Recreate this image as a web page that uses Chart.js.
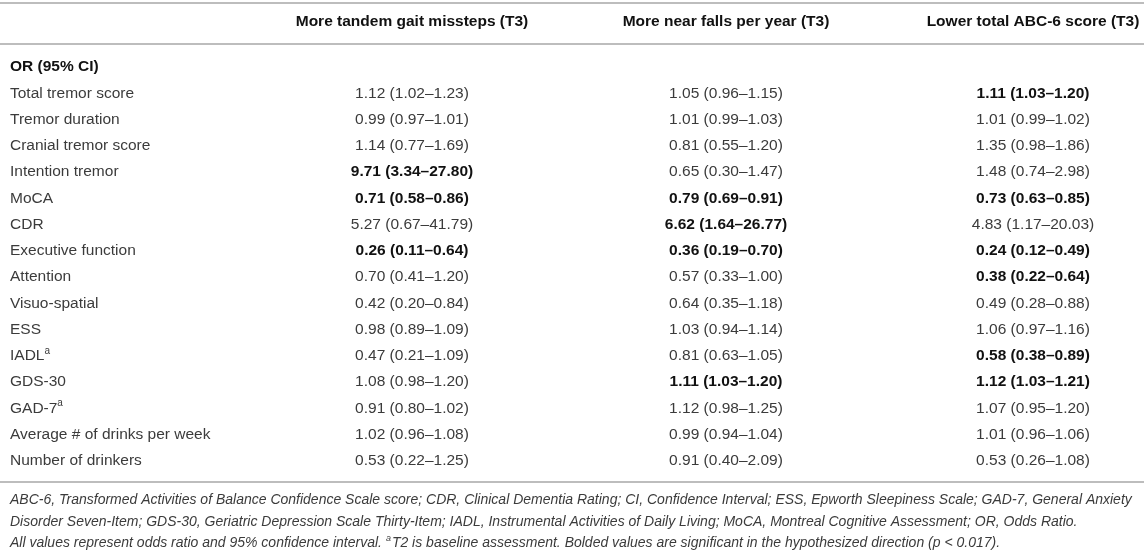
<!DOCTYPE html>
<html>
<head>
<meta charset="utf-8">
<title>Odds ratios table</title>
<script src="https://cdn.jsdelivr.net/npm/chart.js@4.4.1/dist/chart.umd.min.js"></script>
<style>
    html, body { margin: 0; padding: 0; background: #fff; }
    #tableChart { display: block; }
</style>
</head>
<body>
<canvas id="tableChart" width="1144" height="551"></canvas>
<script>
// Row and column labels
const sectionLabel = 'OR (95% CI)';
const variables = [
    'Total tremor score', 'Tremor duration', 'Cranial tremor score', 'Intention tremor',
    'MoCA', 'CDR', 'Executive function', 'Attention', 'Visuo-spatial', 'ESS',
    'IADL^a', 'GDS-30', 'GAD-7^a', 'Average # of drinks per week', 'Number of drinkers'
];
const columns = ['More tandem gait missteps (T3)', 'More near falls per year (T3)', 'Lower total ABC-6 score (T3)'];

// More tandem gait missteps (T3)
const tandemOR   = [1.12, 0.99, 1.14, 9.71, 0.71, 5.27, 0.26, 0.70, 0.42, 0.98, 0.47, 1.08, 0.91, 1.02, 0.53];
const tandemLow  = [1.02, 0.97, 0.77, 3.34, 0.58, 0.67, 0.11, 0.41, 0.20, 0.89, 0.21, 0.98, 0.80, 0.96, 0.22];
const tandemHigh = [1.23, 1.01, 1.69, 27.80, 0.86, 41.79, 0.64, 1.20, 0.84, 1.09, 1.09, 1.20, 1.02, 1.08, 1.25];
const tandemSig  = [3, 4, 6];

// More near falls per year (T3)
const fallsOR   = [1.05, 1.01, 0.81, 0.65, 0.79, 6.62, 0.36, 0.57, 0.64, 1.03, 0.81, 1.11, 1.12, 0.99, 0.91];
const fallsLow  = [0.96, 0.99, 0.55, 0.30, 0.69, 1.64, 0.19, 0.33, 0.35, 0.94, 0.63, 1.03, 0.98, 0.94, 0.40];
const fallsHigh = [1.15, 1.03, 1.20, 1.47, 0.91, 26.77, 0.70, 1.00, 1.18, 1.14, 1.05, 1.20, 1.25, 1.04, 2.09];
const fallsSig  = [4, 5, 6, 11];

// Lower total ABC-6 score (T3)
const abcOR   = [1.11, 1.01, 1.35, 1.48, 0.73, 4.83, 0.24, 0.38, 0.49, 1.06, 0.58, 1.12, 1.07, 1.01, 0.53];
const abcLow  = [1.03, 0.99, 0.98, 0.74, 0.63, 1.17, 0.12, 0.22, 0.28, 0.97, 0.38, 1.03, 0.95, 0.96, 0.26];
const abcHigh = [1.20, 1.02, 1.86, 2.98, 0.85, 20.03, 0.49, 0.64, 0.88, 1.16, 0.89, 1.21, 1.20, 1.06, 1.08];
const abcSig  = [0, 4, 6, 7, 10, 11];

const footnotes = [
    'ABC-6, Transformed Activities of Balance Confidence Scale score; CDR, Clinical Dementia Rating; CI, Confidence Interval; ESS, Epworth Sleepiness Scale; GAD-7, General Anxiety',
    'Disorder Seven-Item; GDS-30, Geriatric Depression Scale Thirty-Item; IADL, Instrumental Activities of Daily Living; MoCA, Montreal Cognitive Assessment; OR, Odds Ratio.',
    'All values represent odds ratio and 95% confidence interval. ^aT2 is baseline assessment. Bolded values are significant in the hypothesized direction (p < 0.017).'
];

// layout (page pixels)
const PAGE_W = 1144;
const LABEL_X = 10;
const COL_X = [412, 726, 1033];
const RULE_Y = [3, 44, 482];
const HEADER_Y = 22;
const FOOT_Y = [500, 522, 543];

const FAMILY = '"Liberation Sans", Arial, Helvetica, sans-serif';
const TEXT_COLOR = '#3b3b3b';
const BOLD_COLOR = '#111111';
const RULE_COLOR = '#bdbdbd';

const rowLabels = [sectionLabel].concat(variables);

function formatOR(or, lo, hi) {
    return or.toFixed(2) + ' (' + lo.toFixed(2) + '\u2013' + hi.toFixed(2) + ')';
}

function columnDataset(x, ors, lows, highs, sig) {
    return {
        align: 'center',
        data: variables.map(v => ({ x: x, y: v })),
        cells: ors.map((or, i) => ({
            text: formatOR(or, lows[i], highs[i]),
            bold: sig.indexOf(i) !== -1
        }))
    };
}

// split "IADL^a" style text into normal and superscript pieces
function segments(text) {
    const parts = text.split('^');
    const segs = [{ text: parts[0], sup: false }];
    for (let i = 1; i < parts.length; i++) {
        segs.push({ text: parts[i].charAt(0), sup: true });
        segs.push({ text: parts[i].slice(1), sup: false });
    }
    return segs.filter(s => s.text.length);
}

function drawRich(ctx, text, x, y, size, style) {
    let cx = x;
    segments(text).forEach(seg => {
        if (seg.sup) {
            ctx.font = style + ' ' + Math.round(size * 0.65) + 'px ' + FAMILY;
            ctx.fillText(seg.text, cx, y - size * 0.33);
            cx += ctx.measureText(seg.text).width + 1;
        } else {
            ctx.font = style + ' ' + size + 'px ' + FAMILY;
            ctx.fillText(seg.text, cx, y);
            cx += ctx.measureText(seg.text).width;
        }
    });
}

const tablePlugin = {
    id: 'tablePlugin',
    afterDatasetsDraw(chart) {
        const ctx = chart.ctx;
        const xScale = chart.scales.x;
        ctx.save();
        ctx.textBaseline = 'middle';

        // rules
        ctx.strokeStyle = RULE_COLOR;
        ctx.lineWidth = 2;
        RULE_Y.forEach(y => {
            ctx.beginPath();
            ctx.moveTo(xScale.getPixelForValue(0), y);
            ctx.lineTo(xScale.getPixelForValue(PAGE_W), y);
            ctx.stroke();
        });

        // column headers
        ctx.textAlign = 'center';
        ctx.fillStyle = BOLD_COLOR;
        ctx.font = 'bold 15.5px ' + FAMILY;
        columns.forEach((c, i) => {
            ctx.fillText(c, xScale.getPixelForValue(COL_X[i]), HEADER_Y);
        });

        // cells
        chart.data.datasets.forEach((ds, di) => {
            const meta = chart.getDatasetMeta(di);
            meta.data.forEach((pt, i) => {
                const cell = ds.cells[i];
                ctx.fillStyle = cell.bold ? BOLD_COLOR : TEXT_COLOR;
                ctx.textAlign = ds.align === 'left' ? 'left' : 'center';
                if (ds.align === 'left') {
                    drawRich(ctx, cell.text, pt.x, pt.y, 15.5, cell.bold ? 'bold' : 'normal');
                } else {
                    ctx.font = (cell.bold ? 'bold ' : '') + '15.5px ' + FAMILY;
                    ctx.fillText(cell.text, pt.x, pt.y);
                }
            });
        });

        // footnotes
        ctx.textAlign = 'left';
        ctx.fillStyle = TEXT_COLOR;
        footnotes.forEach((f, i) => {
            drawRich(ctx, f, xScale.getPixelForValue(LABEL_X), FOOT_Y[i], 14, 'italic');
        });
        ctx.restore();
    }
};

const ctx = document.getElementById('tableChart').getContext('2d');
const tableChart = new Chart(ctx, {
    type: 'scatter',
    data: {
        datasets: [
            {
                align: 'left',
                data: rowLabels.map(r => ({ x: LABEL_X, y: r })),
                cells: rowLabels.map((r, i) => ({ text: r, bold: i === 0 }))
            },
            columnDataset(COL_X[0], tandemOR, tandemLow, tandemHigh, tandemSig),
            columnDataset(COL_X[1], fallsOR, fallsLow, fallsHigh, fallsSig),
            columnDataset(COL_X[2], abcOR, abcLow, abcHigh, abcSig)
        ]
    },
    options: {
        responsive: false,
        animation: false,
        layout: { padding: { top: 67, bottom: 90, left: 0, right: 0 } },
        elements: { point: { radius: 0, hoverRadius: 0 } },
        plugins: {
            legend: { display: false },
            tooltip: { enabled: false }
        },
        scales: {
            x: { type: 'linear', min: 0, max: PAGE_W, display: false },
            y: { type: 'category', labels: rowLabels, offset: false, display: false }
        }
    },
    plugins: [tablePlugin]
});
</script>
</body>
</html>
